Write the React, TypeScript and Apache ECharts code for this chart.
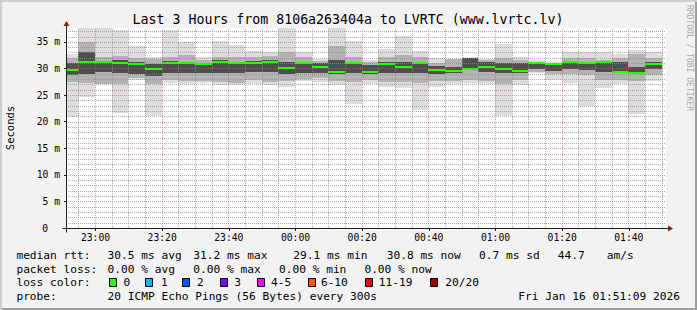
import React, { useEffect, useRef } from "react";
import * as echarts from "echarts";

const MONO = '"DejaVu Sans Mono", monospace';

// ---- data (5-minute buckets, RTT in ms) ----
const bucketStarts = [
  "22:50", "22:55", "23:00", "23:05", "23:10", "23:15", "23:20", "23:25", "23:30", "23:35",
  "23:40", "23:45", "23:50", "23:55", "00:00", "00:05", "00:10", "00:15", "00:20", "00:25",
  "00:30", "00:35", "00:40", "00:45", "00:50", "00:55", "01:00", "01:05", "01:10", "01:15",
  "01:20", "01:25", "01:30", "01:35", "01:40", "01:45",
];
const rttMax = [
  32.7, 37.6, 37.6, 37.2, 34.3, 32.2, 37.2, 34.9, 32.1, 35.2,
  34.35, 33.2, 33.0, 37.6, 33.0, 31.8, 37.6, 35.1, 31.5, 33.7,
  36.1, 33.3, 31.9, 31.7, 32.1, 31.8, 34.6, 32.1, 31.5, 31.2,
  33.0, 33.1, 33.1, 32.7, 33.5, 33.0,
];
const rttP90 = [
  32.0, 35.0, 32.1, 32.4, 32.0, 31.8, 32.1, 32.5, 31.6, 32.1,
  32.2, 32.2, 32.4, 33.0, 32.2, 31.4, 34.2, 32.1, 31.2, 32.1,
  32.6, 32.1, 31.1, 31.7, 32.0, 31.5, 32.0, 31.5, 31.3, 31.1,
  32.0, 31.9, 31.6, 32.0, 32.7, 32.0,
];
const rttP75 = [
  31.0, 33.0, 31.3, 31.5, 31.2, 30.8, 31.4, 31.3, 31.1, 31.5,
  31.3, 31.4, 31.6, 31.2, 31.3, 31.0, 31.6, 31.3, 30.6, 31.2,
  31.2, 31.3, 30.5, 30.2, 32.0, 31.2, 31.0, 31.0, 31.1, 30.9,
  31.4, 31.2, 31.4, 31.3, 30.2, 31.2,
];
const rttMedian = [
  29.75, 31.2, 31.2, 31.1, 30.85, 29.85, 31.05, 31.0, 30.85, 31.2,
  31.05, 31.1, 31.2, 30.1, 31.0, 30.3, 29.3, 31.05, 29.4, 30.75,
  30.2, 31.05, 29.75, 29.6, 29.9, 30.3, 29.95, 29.6, 31.0, 30.8,
  31.2, 31.0, 31.2, 29.35, 29.1, 30.8,
];
const rttP25 = [
  28.8, 29.0, 29.3, 29.2, 29.0, 28.6, 29.2, 29.2, 29.1, 29.2,
  29.1, 29.3, 29.3, 29.0, 29.1, 29.1, 28.9, 29.1, 29.0, 29.2,
  29.1, 29.1, 29.0, 29.1, 29.7, 29.3, 29.1, 29.1, 29.9, 29.6,
  29.8, 29.7, 29.4, 29.3, 29.0, 29.8,
];
const rttP10 = [
  27.4, 27.2, 27.1, 27.1, 28.2, 27.1, 27.8, 27.6, 27.6, 27.5,
  27.3, 27.8, 27.5, 27.6, 28.0, 28.2, 27.7, 27.5, 27.8, 27.5,
  27.4, 27.3, 27.6, 27.6, 27.8, 27.6, 27.0, 27.8, 29.4, 29.0,
  29.0, 28.7, 27.8, 27.8, 27.7, 28.8,
];
const rttMin = [
  20.9, 24.7, 27.1, 21.6, 27.8, 21.1, 27.2, 27.1, 27.2, 26.8,
  26.8, 27.1, 26.8, 26.6, 27.7, 27.5, 26.8, 23.4, 27.0, 26.6,
  26.3, 22.2, 26.6, 27.1, 27.3, 27.1, 21.1, 26.8, 29.1, 27.8,
  27.2, 22.9, 26.3, 27.1, 21.4, 27.7,
];

const viewStart = "22:51:09";
const viewEnd = "01:51:09";
const xTickLabels = ["23:00", "23:20", "23:40", "00:00", "00:20", "00:40", "01:00", "01:20", "01:40"];
const yMax = 37.6;

const rttStats = ["30.5 ms avg", "31.2 ms max", "29.1 ms min", "30.8 ms now", "0.7 ms sd", "44.7", "am/s"];
const rttStatX = [107.6, 193.3, 293.3, 386.7, 479, 557.8, 606.7];
const lossStats = ["0.00 % avg", "0.00 % max", "0.00 % min", "0.00 % now"];
const lossStatX = [107.6, 193.3, 279, 364.4];
const lossLabels = ["0", "1", "2", "3", "4-5", "6-10", "11-19", "20/20"];
const lossColors = ["#26ff00", "#00b8ff", "#0059ff", "#7e00ff", "#ff00ff", "#ff5500", "#ff0000", "#a10000"];
const lossBoxX = [109, 145.3, 182.2, 220, 256.9, 307.6, 365.3, 429.8];
const lossTextX = [123.6, 160.9, 196.9, 234.2, 271.1, 320.9, 378.7, 445.3];

function toMin(t: string): number {
  const [h, m, s] = t.split(":").map(Number);
  const hh = h < 12 ? h + 24 : h;
  return (hh - 22) * 60 + m + (s || 0) / 60;
}
function fmtMin(v: number): string {
  const total = Math.round(v) + 22 * 60;
  const h = Math.floor(total / 60) % 24;
  const m = total % 60;
  return String(h).padStart(2, "0") + ":" + String(m).padStart(2, "0");
}

const T0 = toMin(viewStart);
const T1 = toMin(viewEnd);
const BUCKET = 5;

export default function App() {
  const ref = useRef<HTMLDivElement>(null);
  useEffect(() => {
    if (!ref.current) return;
    const chart = echarts.init(ref.current, null, { renderer: "svg" });

    const smokeData = bucketStarts.map((b, i) => [
      toMin(b), toMin(b) + BUCKET, rttMin[i], rttP10[i], rttP25[i], rttMedian[i], rttP75[i], rttP90[i], rttMax[i],
    ]);
    const medianData = bucketStarts.map((b, i) => [toMin(b), toMin(b) + BUCKET, rttMedian[i]]);

    const gridItems: number[][] = [];
    for (let m = Math.ceil(T0 / BUCKET) * BUCKET; m <= T1; m += BUCKET) {
      gridItems.push([0, m, m % 20 === 0 ? 1 : 0]);
    }
    for (let v = 1; v < yMax; v += 1) {
      gridItems.push([1, v, v % 5 === 0 ? 1 : 0]);
    }
    const tickMins = xTickLabels.map(toMin);

    const graphic: any[] = [];
    graphic.push({
      type: "text", x: 348, y: 19, silent: true,
      style: { text: "Last 3 Hours from 8106a263404a to LVRTC (www.lvrtc.lv)", fill: "#000", font: `13.25px ${MONO}`, align: "center", verticalAlign: "middle" },
    });
    graphic.push({
      type: "text", x: 689, y: 5, rotation: -Math.PI / 2, silent: true,
      style: { text: "RRDTOOL / TOBI OETIKER", fill: "#a8a8a8", font: `8px ${MONO}`, align: "left", verticalAlign: "middle" },
    });
    const legFont = `11.2px ${MONO}`;
    const addText = (text: string, x: number, y: number) =>
      graphic.push({ type: "text", x, y, silent: true, style: { text, fill: "#000", font: legFont, align: "left", verticalAlign: "middle" } });
    addText("median rtt:", 16.4, 255);
    rttStats.forEach((t, i) => addText(t, rttStatX[i], 255));
    addText("packet loss:", 16.4, 269);
    lossStats.forEach((t, i) => addText(t, lossStatX[i], 269));
    addText("loss color:", 16.4, 282);
    lossLabels.forEach((t, i) => {
      graphic.push({
        type: "rect", silent: true,
        shape: { x: Math.round(lossBoxX[i]) + 0.5, y: 278.5, width: 7, height: 8 },
        style: { fill: lossColors[i], stroke: "#000", lineWidth: 1 },
      });
      addText(t, lossTextX[i], 282);
    });
    addText("probe:", 16.4, 296);
    addText("20 ICMP Echo Pings (56 Bytes) every 300s", 107.6, 296);
    graphic.push({
      type: "text", x: 680, y: 296, silent: true,
      style: { text: "Fri Jan 16 01:51:09 2026", fill: "#000", font: legFont, align: "right", verticalAlign: "middle" },
    });

    const option: any = {
      animation: false,
      backgroundColor: "transparent",
      textStyle: { fontFamily: MONO },
      grid: {
        left: 66, top: 28, width: 600, height: 200, show: true, backgroundColor: "#ffffff", borderWidth: 0,
        containLabel: false, outerBoundsMode: "none",
      },
      xAxis: {
        type: "value", min: T0, max: T1,
        axisLine: { show: false },
        axisTick: { show: true, customValues: tickMins, length: 3, lineStyle: { color: "#1f1f1f" } },
        axisLabel: {
          customValues: tickMins, formatter: (v: number) => fmtMin(v),
          fontSize: 9.7, fontFamily: MONO, color: "#000", margin: 4,
        },
        splitLine: { show: false },
      },
      yAxis: {
        type: "value", min: 0, max: yMax, interval: 5,
        axisLine: { show: false },
        axisTick: { show: true, length: 2, lineStyle: { color: "#1f1f1f" } },
        axisLabel: {
          showMaxLabel: false,
          formatter: (v: number) => (v === 0 ? "{z|0}" : `${v} m`),
          rich: { z: { padding: [0, 12, 0, 0], fontSize: 9.7, fontFamily: MONO, color: "#000" } },
          fontSize: 9.7, fontFamily: MONO, color: "#000", margin: 6,
        },
        splitLine: { show: false },
        name: "Seconds", nameLocation: "middle", nameGap: 50.5, nameRotate: 90,
        nameTextStyle: { fontSize: 10.5, fontFamily: MONO, color: "#000" },
      },
      series: [
        {
          type: "custom", name: "smoke", z: 2, clip: true, silent: true,
          data: smokeData,
          renderItem: (params: any, api: any) => {
            const s = api.value(0), e = api.value(1);
            const layers: [number, number, string][] = [
              [2, 8, "#dddddd"], [3, 7, "#b3b3b3"], [4, 6, "#4e4e4e"],
            ];
            return {
              type: "group",
              children: layers.map(([lo, hi, c]) => {
                const p0 = api.coord([s, api.value(hi)]);
                const p1 = api.coord([e, api.value(lo)]);
                const x0 = Math.floor(p0[0]), x1 = Math.floor(p1[0]);
                const y0 = Math.round(p0[1]), y1 = Math.round(p1[1]);
                return { type: "rect", shape: { x: x0, y: y0, width: x1 - x0, height: y1 - y0 }, style: { fill: c } };
              }),
            };
          },
        },
        {
          type: "custom", name: "grid", z: 3, clip: true, silent: true,
          data: gridItems,
          renderItem: (params: any, api: any) => {
            const o = api.value(0), v = api.value(1), major = api.value(2);
            const stroke = major ? "rgba(222,79,79,0.6)" : "rgba(143,143,143,0.75)";
            let shape;
            if (o === 0) {
              const a = api.coord([v, 0]);
              const b = api.coord([v, yMax]);
              const x = Math.floor(a[0]) + 0.5;
              shape = { x1: x, y1: a[1], x2: x, y2: b[1] };
            } else {
              const a = api.coord([T0, v]);
              const b = api.coord([T1, v]);
              const y = Math.round(a[1]) + 0.5;
              shape = { x1: a[0], y1: y, x2: b[0], y2: y };
            }
            return { type: "line", shape, style: { stroke, lineWidth: 1, lineDash: [1, 1] } };
          },
        },
        {
          type: "custom", name: "median", z: 4, clip: true, silent: true,
          data: medianData,
          renderItem: (params: any, api: any) => {
            const p0 = api.coord([api.value(0), api.value(2)]);
            const p1 = api.coord([api.value(1), api.value(2)]);
            const x0 = Math.floor(p0[0]), x1 = Math.floor(p1[0]);
            const y = Math.round(p0[1]) - 1;
            return { type: "rect", shape: { x: x0, y, width: x1 - x0, height: 2 }, style: { fill: lossColors[0] } };
          },
        },
        {
          type: "custom", name: "frame", z: 5, clip: false, silent: true,
          data: [[T0, 0]],
          renderItem: (params: any, api: any) => {
            const o = api.coord([T0, 0]);
            const tr = api.coord([T1, yMax]);
            const ox = Math.floor(o[0]) + 0.5, oy = Math.round(o[1]) + 0.5;
            const rx = Math.round(tr[0]), ty = Math.round(tr[1]);
            return {
              type: "group",
              children: [
                { type: "line", shape: { x1: ox - 4, y1: oy, x2: rx + 4, y2: oy }, style: { stroke: "#1f1f1f", lineWidth: 1 } },
                { type: "line", shape: { x1: ox, y1: oy + 4, x2: ox, y2: ty - 4 }, style: { stroke: "#1f1f1f", lineWidth: 1 } },
                { type: "polygon", shape: { points: [[rx + 2, oy - 3], [rx + 2, oy + 3], [rx + 7, oy]] }, style: { fill: "#801f1f" } },
                { type: "polygon", shape: { points: [[ox - 3, ty - 2], [ox + 3, ty - 2], [ox, ty - 7]] }, style: { fill: "#801f1f" } },
              ],
            };
          },
        },
      ],
      graphic,
    };
    chart.setOption(option);
    return () => chart.dispose();
  }, []);

  return (
    <div
      style={{
        position: "fixed", left: 0, top: 0, width: 697, height: 310,
        background: "#f2f2f2",
        boxShadow: "inset 2px 2px 0 #cfcfcf, inset -2px -2px 0 #9e9e9e",
      }}
    >
      <div ref={ref} style={{ position: "absolute", left: 0, top: 0, width: 697, height: 310 }} />
    </div>
  );
}
